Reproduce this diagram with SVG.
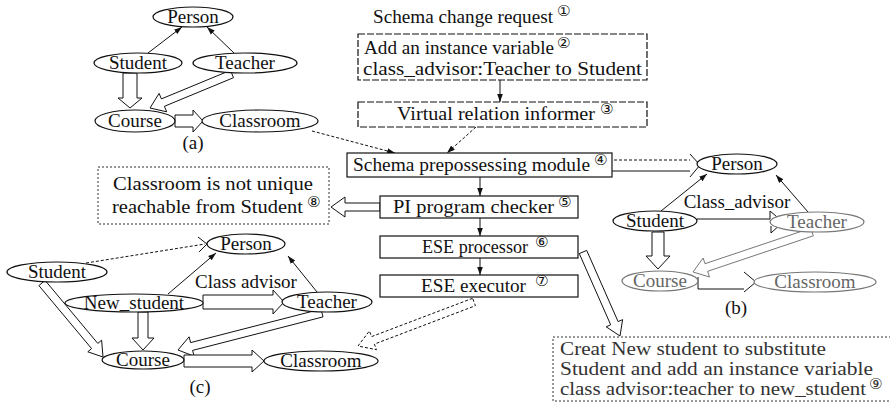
<svg xmlns="http://www.w3.org/2000/svg" width="890" height="403" viewBox="0 0 890 403">
<defs>
<marker id="ah" viewBox="0 0 10 10" refX="10" refY="5" markerWidth="8" markerHeight="8" markerUnits="userSpaceOnUse" orient="auto"><path d="M0,1.5 L10,5 L0,8.5 z" fill="#111"/></marker>
<style>
text{font-family:'Liberation Serif','DejaVu Serif',serif;font-size:19px;fill:#111}
.c{text-anchor:middle}
.num{font-family:'DejaVu Sans',sans-serif;font-size:15px}
.node ellipse{fill:#fff;stroke:#111;stroke-width:1.2}
.grey ellipse{stroke:#777}
.grey text{fill:#666}
.box{fill:#fff;stroke:#111;stroke-width:1.2}
.dash{stroke-dasharray:7 2}
.dot{fill:#fff;stroke:#333;stroke-width:1;stroke-dasharray:2 2}
.ha{fill:#fff;stroke:#111;stroke-width:1}
.hg{fill:#fff;stroke:#777;stroke-width:1}
.ln{fill:none;stroke:#111;stroke-width:1}
.dl{stroke-dasharray:3 2}
.txt9{fill:#333}
</style>
</defs>
<rect width="890" height="403" fill="#fff"/>

<g id="connectors">
  <line class="ln" x1="148" y1="53" x2="182" y2="27" marker-end="url(#ah)"/>
  <line class="ln" x1="234" y1="53" x2="207" y2="27" marker-end="url(#ah)"/>
  <line class="ln" x1="500" y1="80" x2="500" y2="102" marker-end="url(#ah)"/>
  <line class="ln dl" x1="476" y1="127" x2="447" y2="153" marker-end="url(#ah)"/>
  <line class="ln dl" x1="312" y1="131" x2="395" y2="153" marker-end="url(#ah)"/>
  <line class="ln" x1="480" y1="177" x2="480" y2="196" marker-end="url(#ah)"/>
  <line class="ln" x1="480" y1="218" x2="480" y2="236" marker-end="url(#ah)"/>
  <line class="ln" x1="480" y1="258" x2="480" y2="275" marker-end="url(#ah)"/>
  <line class="ln" x1="661" y1="211" x2="707" y2="174" marker-end="url(#ah)"/>
  <line class="ln" x1="808" y1="212" x2="776" y2="175" marker-end="url(#ah)"/>
  <line class="ln" x1="168" y1="294" x2="216" y2="253" marker-end="url(#ah)"/>
  <line class="ln" x1="317" y1="292" x2="288" y2="256" marker-end="url(#ah)"/>

  <polygon class="ha" points="123,73 123,98 118,98 130,108 142,98 137,98 137,73"/>
  <polygon class="ha" points="230.5,70.3 161.4,98.9 159.1,93.4 150,108 166.7,111.8 164.4,106.3 233.5,77.7"/>
  <polygon class="ha" points="175,115 193,115 193,110 203,121 193,132 193,127 175,127"/>

  <polygon class="ha" points="380,203 345,203 345,197 331,207 345,217 345,211 380,211"/>

  <line class="ln dl" x1="614" y1="160" x2="690" y2="160"/>
  <line class="ln" x1="612" y1="171" x2="690" y2="171"/>
  <polyline class="ln" points="690,154 700,165 690,177"/>

  <polyline class="ln" points="697,219 770,219 770,211 783,222 771,233 771,226"/>
  <polygon class="ha" points="652,232 652,256 646,256 658,269 670,256 664,256 664,232"/>
  <polygon class="hg" points="810.7,228.2 705,263.7 703.1,258 693,272 709.5,277 707.6,271.3 813.3,235.8"/>
  <polyline class="ln" points="698,277 698,289 744,289"/>
  <polyline class="ln" points="744,272 756,282 744,292"/>

  <polygon class="ha" points="579.3,253.6 610.7,324.8 606.2,326.8 620,336 622.6,319.6 618.1,321.6 586.7,250.4"/>

  <line class="ln dl" x1="86" y1="263" x2="205" y2="244"/>
  <polyline class="ln" points="198,237 207,244 199,252"/>
  <polygon class="ha" points="38.9,285.6 91.6,348.6 87.8,351.8 103,357 101.6,340.2 97.8,343.4 45.1,280.4"/>
  <polygon class="ha" points="138,312 138,338 132,338 143,350 154,338 148,338 148,312"/>
  <polygon class="ha" points="203,295 273,295 273,290 284,302 273,314 273,309 203,309"/>
  <polygon class="ha" points="321,309.1 190.6,342.6 189.1,336.8 178,350 194.1,356.2 192.6,350.4 323,316.9"/>
  <polygon class="ha" points="184,355 252,355 252,350 264,361 252,372 252,367 184,367"/>
  <polygon class="ha dl" points="472.6,298.3 371.6,336.6 369.4,331 358,346 376.5,349.7 374.4,344.1 475.4,305.7"/>
</g>

<g id="a-person" class="node"><ellipse cx="193" cy="17" rx="40" ry="10"/><text class="c" x="193" y="23">Person</text></g>
<g id="a-student" class="node"><ellipse cx="138" cy="63" rx="44" ry="10"/><text class="c" x="138" y="69">Student</text></g>
<g id="a-teacher" class="node"><ellipse cx="245" cy="63" rx="52" ry="10"/><text class="c" x="245" y="69">Teacher</text></g>
<g id="a-course" class="node"><ellipse cx="135" cy="121" rx="40" ry="11"/><text class="c" x="135" y="127">Course</text></g>
<g id="a-classroom" class="node"><ellipse cx="260" cy="121" rx="58" ry="11"/><text class="c" x="260" y="127">Classroom</text></g>
<text class="c" x="193" y="149">(a)</text>

<g id="n1"><text x="373" y="23" textLength="180" lengthAdjust="spacingAndGlyphs">Schema change request</text><text class="num" x="557" y="16">①</text></g>
<g id="n2"><rect class="box dash" x="358" y="34" width="289" height="46"/>
  <text x="364" y="54" textLength="190" lengthAdjust="spacingAndGlyphs">Add an instance variable</text><text class="num" x="557" y="48">②</text>
  <text x="363" y="75" textLength="279" lengthAdjust="spacingAndGlyphs">class_advisor:Teacher to Student</text></g>
<g id="n3"><rect class="box dash" x="358" y="102" width="289" height="25"/>
  <text x="397" y="120" textLength="198" lengthAdjust="spacingAndGlyphs">Virtual relation informer</text><text class="num" x="600" y="114">③</text></g>
<g id="n4"><rect class="box" x="347" y="153" width="265" height="24"/>
  <text x="353" y="171" textLength="237" lengthAdjust="spacingAndGlyphs">Schema prepossessing module</text><text class="num" x="594" y="165">④</text></g>
<g id="n5"><rect class="box" x="380" y="196" width="198" height="22"/>
  <text x="393" y="213" textLength="161" lengthAdjust="spacingAndGlyphs">PI program checker</text><text class="num" x="558" y="207">⑤</text></g>
<g id="n6"><rect class="box" x="380" y="236" width="198" height="22"/>
  <text x="422" y="253" textLength="106" lengthAdjust="spacingAndGlyphs">ESE processor</text><text class="num" x="535" y="247">⑥</text></g>
<g id="n7"><rect class="box" x="380" y="275" width="198" height="22"/>
  <text x="421" y="292" textLength="105" lengthAdjust="spacingAndGlyphs">ESE executor</text><text class="num" x="535" y="286">⑦</text></g>
<g id="n8"><rect class="dot" x="98" y="167" width="231" height="57"/>
  <text x="113" y="190" textLength="200" lengthAdjust="spacingAndGlyphs">Classroom is not unique</text>
  <text x="112" y="213" textLength="191" lengthAdjust="spacingAndGlyphs">reachable from Student</text><text class="num" x="307" y="207">⑧</text></g>
<g id="n9"><rect class="dot" x="553" y="337" width="340" height="64"/>
  <text class="txt9" x="560" y="355" textLength="266" lengthAdjust="spacingAndGlyphs">Creat New student to substitute</text>
  <text class="txt9" x="560" y="375" textLength="313" lengthAdjust="spacingAndGlyphs">Student and add an instance variable</text>
  <text class="txt9" x="560" y="395" textLength="306" lengthAdjust="spacingAndGlyphs">class advisor:teacher to new_student</text><text class="num txt9" x="869" y="389">⑨</text></g>

<g id="b-person" class="node"><ellipse cx="737" cy="164" rx="40" ry="10"/><text class="c" x="737" y="170">Person</text></g>
<text class="c" x="737" y="208">Class_advisor</text>
<g id="b-student" class="node"><ellipse cx="655" cy="221" rx="42" ry="10"/><text class="c" x="655" y="227">Student</text></g>
<g id="b-teacher" class="node grey"><ellipse cx="817" cy="222" rx="47" ry="10"/><text class="c" x="817" y="228">Teacher</text></g>
<g id="b-course" class="node grey"><ellipse cx="660" cy="281" rx="38" ry="10"/><text class="c" x="660" y="287">Course</text></g>
<g id="b-classroom" class="node grey"><ellipse cx="815" cy="282" rx="61" ry="10"/><text class="c" x="815" y="288">Classroom</text></g>
<text class="c" x="736" y="314">(b)</text>

<g id="c-person" class="node"><ellipse cx="246" cy="244" rx="39" ry="10"/><text class="c" x="246" y="250">Person</text></g>
<g id="c-student" class="node"><ellipse cx="57" cy="272" rx="50" ry="10"/><text class="c" x="57" y="278">Student</text></g>
<text class="c" x="246" y="288">Class advisor</text>
<g id="c-newstudent" class="node"><ellipse cx="134" cy="303" rx="69" ry="9"/><text class="c" x="134" y="309">New_student</text></g>
<g id="c-teacher" class="node"><ellipse cx="327" cy="302" rx="45" ry="10"/><text class="c" x="327" y="308">Teacher</text></g>
<g id="c-course" class="node"><ellipse cx="143" cy="360" rx="41" ry="9"/><text class="c" x="143" y="366">Course</text></g>
<g id="c-classroom" class="node"><ellipse cx="321" cy="361" rx="57" ry="10"/><text class="c" x="321" y="367">Classroom</text></g>
<text class="c" x="200" y="393">(c)</text>
</svg>
